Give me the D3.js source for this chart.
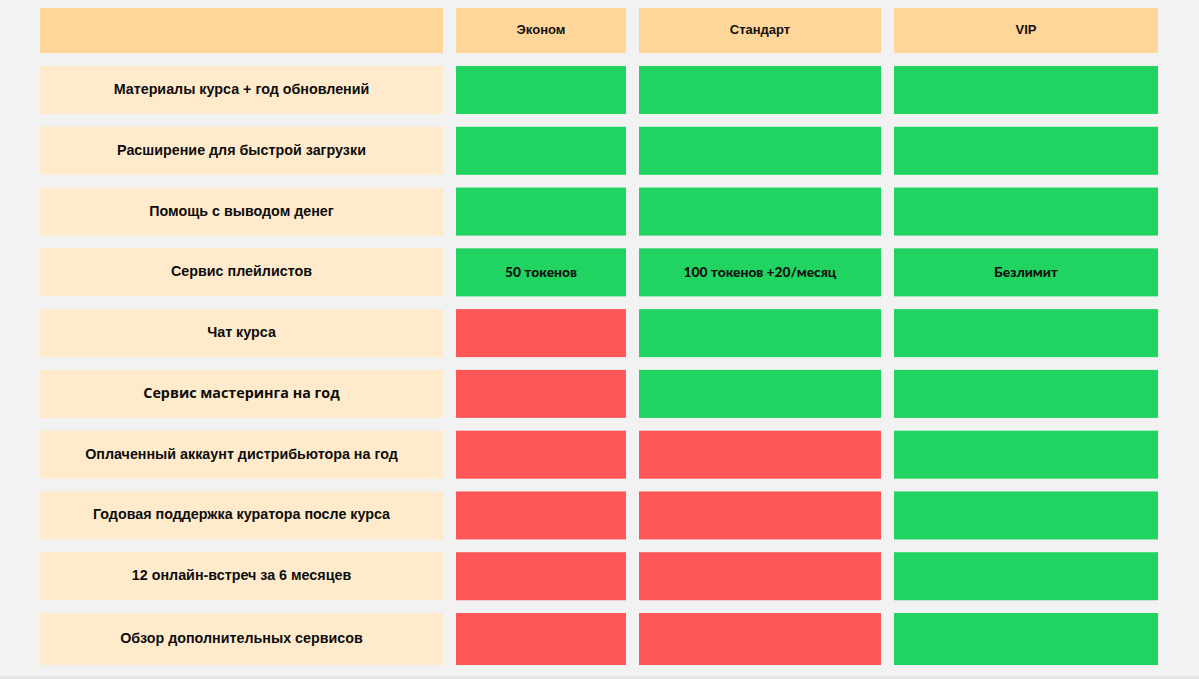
<!DOCTYPE html>
<html><head><meta charset="utf-8">
<script src="https://cdn.jsdelivr.net/npm/d3@7"></script>
<style>
html,body{margin:0;padding:0;background:#f2f2f2;}
svg{display:block;}
</style></head>
<body>
<svg id="c" width="1199" height="679"></svg>
<script>
const plans = ["Эконом", "Стандарт", "VIP"];
const features = [
  "Материалы курса + год обновлений",
  "Расширение для быстрой загрузки",
  "Помощь с выводом денег",
  "Сервис плейлистов",
  "Чат курса",
  "Сервис мастеринга на год",
  "Оплаченный аккаунт дистрибьютора на год",
  "Годовая поддержка куратора после курса",
  "12 онлайн-встреч за 6 месяцев",
  "Обзор дополнительных сервисов"
];
// 1 = included (green), 0 = not included (red)
const econom   = [1,1,1,1,0,0,0,0,0,0];
const standart = [1,1,1,1,1,1,0,0,0,0];
const vip      = [1,1,1,1,1,1,1,1,1,1];
const econNotes = ["","","","50 токенов","","","","","",""];
const stdNotes  = ["","","","100 токенов +20/месяц","","","","","",""];
const vipNotes  = ["","","","Безлимит","","","","","",""];

const svg = d3.select("#c");
const W = 1199, H = 679;
svg.append("rect").attr("width",W).attr("height",H).attr("fill","#f2f2f2");
svg.append("rect").attr("x",0).attr("y",676).attr("width",W).attr("height",3).attr("fill","#e4e4e4");

// column layout
const colKeys = ["label", ...plans];
const colWidths = [403, 170, 242, 264];
const gap = 13, x0 = 40;
const colX = {};
let cx = x0;
colKeys.forEach((k,i)=>{ colX[k] = {x: cx, w: colWidths[i]}; cx += colWidths[i] + gap; });

const y = d3.scaleBand().domain(features).range([66, 66 + 10*60.78 - 12.78]).paddingInner(0.21);
const headerY = 8, headerH = 45;

const colors = {header:"#ffd699", label:"#ffebcc", yes:"#21d360", no:"#ff5757"};

// header
svg.selectAll("rect.hdr").data(colKeys).join("rect")
  .attr("class","hdr")
  .attr("x",d=>colX[d].x).attr("y",headerY).attr("width",d=>colX[d].w).attr("height",headerH)
  .attr("fill",colors.header);
svg.selectAll("text.hdr").data(plans).join("text")
  .attr("class","hdr")
  .attr("x",d=>colX[d].x + colX[d].w/2).attr("y",headerY+headerH/2-1)
  .attr("text-anchor","middle").attr("dominant-baseline","central")
  .attr("font-family","'Liberation Sans', Arial, sans-serif").attr("font-weight","bold")
  .attr("font-size",13).attr("fill","#111").text(d=>d);

const rowH = (f,i) => y.bandwidth() + (i === features.length-1 ? 4 : 0);

// label column
svg.selectAll("rect.lab").data(features).join("rect")
  .attr("class","lab")
  .attr("x",colX.label.x).attr("y",d=>y(d)).attr("width",colX.label.w).attr("height",rowH)
  .attr("fill",colors.label);
svg.selectAll("text.lab").data(features).join("text")
  .attr("class","lab")
  .attr("x",colX.label.x + colX.label.w/2).attr("y",(d,i)=>y(d)+rowH(d,i)/2-1)
  .attr("text-anchor","middle").attr("dominant-baseline","central")
  .attr("font-family",d=> d==="Сервис мастеринга на год" ? "'Open Sans', sans-serif" : "'Liberation Sans', Arial, sans-serif")
  .attr("font-weight","bold").attr("font-size",14.3).attr("fill","#0d0d0d").text(d=>d);

// plan cells
const series = [
  {plan:"Эконом", vals:econom, notes:econNotes},
  {plan:"Стандарт", vals:standart, notes:stdNotes},
  {plan:"VIP", vals:vip, notes:vipNotes}
];
const cells = [];
series.forEach(s => features.forEach((f,i) => cells.push({plan:s.plan, feature:f, i, v:s.vals[i], note:s.notes[i]})));

svg.selectAll("rect.cell").data(cells).join("rect")
  .attr("class","cell")
  .attr("x",d=>colX[d.plan].x).attr("y",d=>y(d.feature))
  .attr("width",d=>colX[d.plan].w).attr("height",d=>rowH(d.feature,d.i))
  .attr("fill",d=>d.v ? colors.yes : colors.no);
svg.selectAll("text.cell").data(cells.filter(d=>d.note)).join("text")
  .attr("class","cell")
  .attr("x",d=>colX[d.plan].x + colX[d.plan].w/2).attr("y",d=>y(d.feature)+y.bandwidth()/2-1)
  .attr("text-anchor","middle").attr("dominant-baseline","central")
  .attr("font-family","Lato, 'Open Sans', sans-serif").attr("font-weight","900")
  .attr("font-size",13.8).attr("fill","#111").text(d=>d.note);
</script>
</body></html>
